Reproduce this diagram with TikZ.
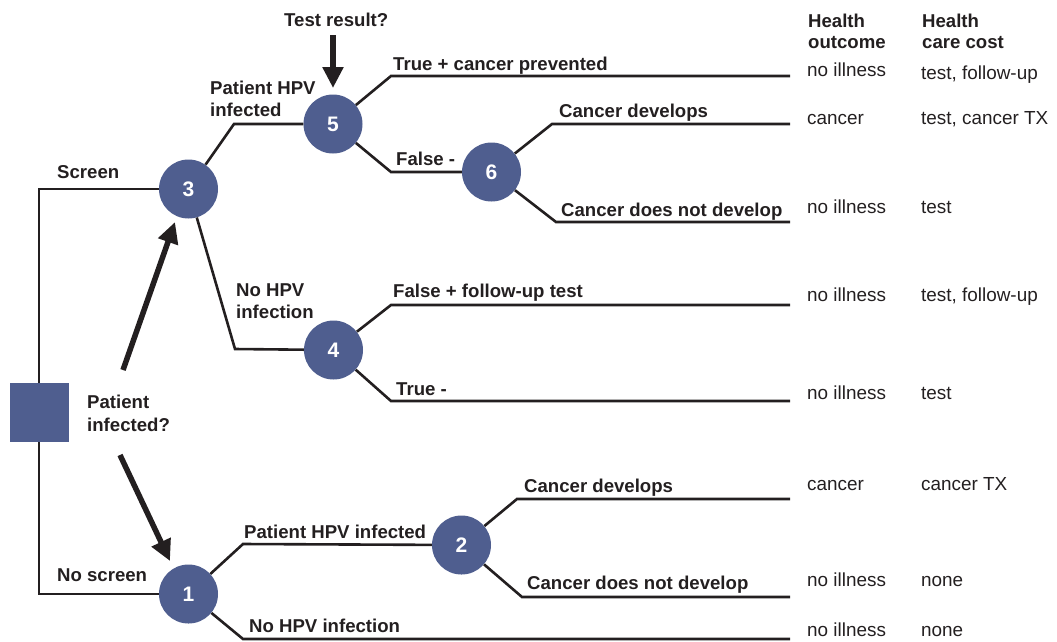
\documentclass[tikz,border=0pt]{standalone}
\usepackage{fontspec}
\setmainfont{Liberation Sans}
\usetikzlibrary{arrows.meta}
\definecolor{nodeblue}{HTML}{4F5E8F}
\definecolor{ink}{HTML}{231F20}
\tikzset{
  chance/.style={circle, fill=nodeblue, draw=none, minimum size=59pt, inner sep=0pt,
    text=white, font=\fontsize{21}{24}\selectfont\bfseries},
  decision/.style={rectangle, fill=nodeblue, draw=none, minimum size=59pt, inner sep=0pt},
  branch/.style={draw=ink, line width=2.6pt, line join=miter},
  lbl/.style={anchor=base west, inner sep=0pt, text=ink, font=\fontsize{18.6}{22}\selectfont\bfseries, align=left},
  outc/.style={anchor=base west, inner sep=0pt, text=ink, font=\fontsize{18.9}{22}\selectfont},
  bigarrow/.style={draw=ink, line width=5.5pt, -{Triangle[length=21pt,width=20pt]}, fill=ink},
}
\begin{document}
\begin{tikzpicture}[x=1pt,y=-1pt]
\useasboundingbox (0,0) rectangle (1057,641);

% nodes
\node[decision] (root) at (39,412.5) {};
\node[chance] (n3) at (188.5,189) {3};
\node[chance] (n5) at (333,124) {5};
\node[chance] (n6) at (491.5,172) {6};
\node[chance] (n4) at (333.5,350) {4};
\node[chance] (n1) at (188.5,594) {1};
\node[chance] (n2) at (461.5,545) {2};

% corner and end coordinates
\coordinate (cS) at (39,189);
\coordinate (cN) at (39,594);
\coordinate (c35) at (234,124);
\coordinate (c34) at (235,349);
\coordinate (c5a) at (391,76);
\coordinate (e5a) at (790,76);
\coordinate (c5b) at (391,172);
\coordinate (c6a) at (552,124);
\coordinate (e6a) at (790,124);
\coordinate (c6b) at (556,222);
\coordinate (e6b) at (790,222);
\coordinate (c4a) at (391,305);
\coordinate (e4a) at (790,305);
\coordinate (c4b) at (391,401);
\coordinate (e4b) at (790,401);
\coordinate (c12) at (243,544);
\coordinate (c1b) at (243,639);
\coordinate (e1b) at (790,639);
\coordinate (c2a) at (517,499);
\coordinate (e2a) at (790,499);
\coordinate (c2b) at (522,597);
\coordinate (e2b) at (790,597);

% arrow coordinates
\coordinate (aTs) at (333,35);
\coordinate (aTe) at (333,88);
\coordinate (aUs) at (123,370);
\coordinate (aUe) at (175,222);
\coordinate (aDs) at (120,455);
\coordinate (aDe) at (170,561);

% branches
\draw[branch] (root) -- (cS) -- (n3);
\draw[branch] (root) -- (cN) -- (n1);
\draw[branch] (n3) -- (c35) -- (n5);
\draw[branch] (n3) -- (c34) -- (n4);
\draw[branch] (n5) -- (c5a) -- (e5a);
\draw[branch] (n5) -- (c5b) -- (n6);
\draw[branch] (n6) -- (c6a) -- (e6a);
\draw[branch] (n6) -- (c6b) -- (e6b);
\draw[branch] (n4) -- (c4a) -- (e4a);
\draw[branch] (n4) -- (c4b) -- (e4b);
\draw[branch] (n1) -- (c12) -- (n2);
\draw[branch] (n1) -- (c1b) -- (e1b);
\draw[branch] (n2) -- (c2a) -- (e2a);
\draw[branch] (n2) -- (c2b) -- (e2b);

% thick arrows
\draw[bigarrow] (aTs) -- (aTe);
\draw[bigarrow] (aUs) -- (aUe);
\draw[bigarrow] (aDs) -- (aDe);

% branch labels
\node[lbl] (tTest) at (284,26) {Test result?};
\node[lbl] (tScreen) at (57,178) {Screen};
\node[lbl] (tNoScreen) at (57,581) {No screen};
\node[lbl] (tPI1) at (87,408) {Patient};
\node[lbl] (tPI2) at (87,431) {infected?};
\node[lbl] (tHPV1) at (210,94) {Patient HPV};
\node[lbl] (tHPV2) at (210,116) {infected};
\node[lbl] (tNoHPV1) at (236,296) {No HPV};
\node[lbl] (tNoHPV2) at (236,318) {infection};
\node[lbl] (tTrueP) at (393,70) {True + cancer prevented};
\node[lbl] (tFalseN) at (396,165) {False -};
\node[lbl] (tCD1) at (559,117) {Cancer develops};
\node[lbl] (tCN1) at (561,216) {Cancer does not develop};
\node[lbl] (tFalseP) at (393,297) {False + follow-up test};
\node[lbl] (tTrueN) at (396,395) {True -};
\node[lbl] (tPHI) at (244,538) {Patient HPV infected};
\node[lbl] (tNHI) at (249,632) {No HPV infection};
\node[lbl] (tCD2) at (524,492) {Cancer develops};
\node[lbl] (tCN2) at (527,589) {Cancer does not develop};

% column headers
\node[lbl] (hO1) at (808,27) {Health};
\node[lbl] (hO2) at (808,48) {outcome};
\node[lbl] (hC1) at (922,27) {Health};
\node[lbl] (hC2) at (922,48) {care cost};

% outcomes
\node[outc] (o1) at (807,76) {no illness};
\node[outc] (k1) at (921,79) {test, follow-up};
\node[outc] (o2) at (807,124) {cancer};
\node[outc] (k2) at (921,124) {test, cancer TX};
\node[outc] (o3) at (807,213) {no illness};
\node[outc] (k3) at (921,213) {test};
\node[outc] (o4) at (807,301) {no illness};
\node[outc] (k4) at (921,301) {test, follow-up};
\node[outc] (o5) at (807,399) {no illness};
\node[outc] (k5) at (921,399) {test};
\node[outc] (o6) at (807,490) {cancer};
\node[outc] (k6) at (921,490) {cancer TX};
\node[outc] (o7) at (807,586) {no illness};
\node[outc] (k7) at (921,586) {none};
\node[outc] (o8) at (807,636) {no illness};
\node[outc] (k8) at (921,636) {none};
\end{tikzpicture}
\end{document}
